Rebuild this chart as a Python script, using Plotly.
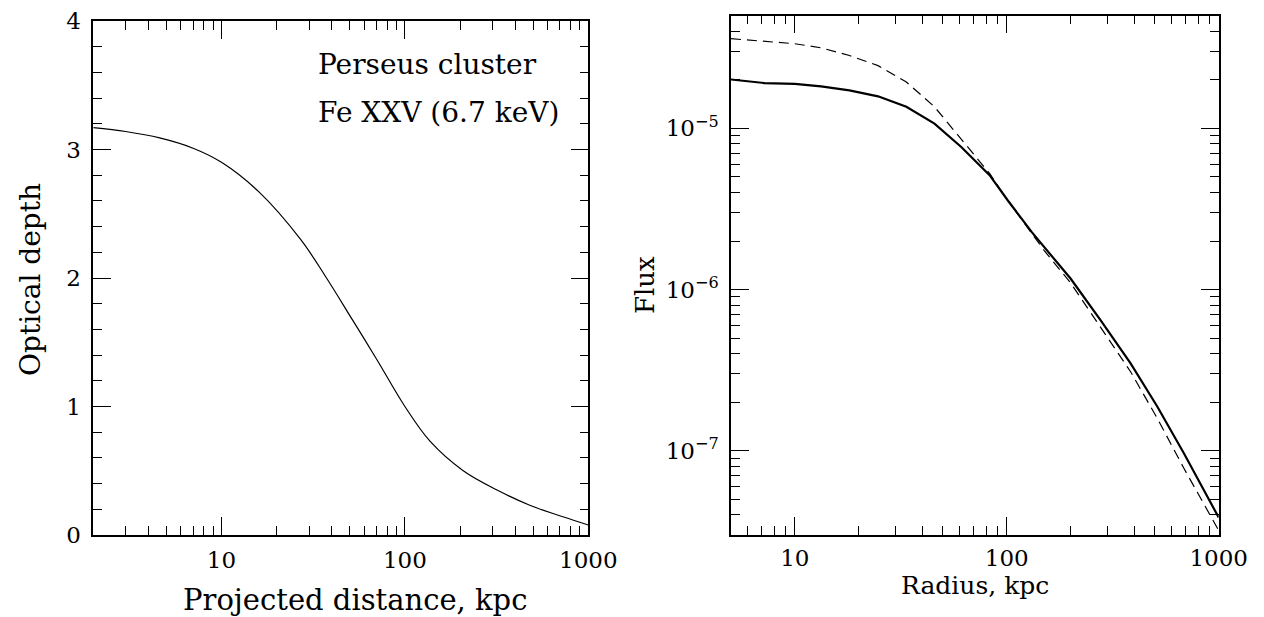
import plotly.graph_objects as go

# ---- data -----------------------------------------------------------------
# Optical depth of the Fe XXV 6.7 keV line vs projected distance (kpc)
proj_kpc = [2, 3, 4.6, 7, 10, 16, 27, 37, 52, 70, 100, 137, 208, 318, 483, 734, 1000]
optical_depth = [3.17, 3.14, 3.09, 3.01, 2.90, 2.67, 2.30, 2.01, 1.67, 1.37,
                 1.00, 0.73, 0.50, 0.35, 0.23, 0.14, 0.078]

# Surface brightness profiles vs radius (kpc)
radius_kpc = [5, 7.2, 10, 13.3, 18.1, 24.7, 33.6, 45.6, 61, 83, 101, 131,
              150, 200, 277, 384, 513, 685, 1000]
flux_scattered = [2.01e-5, 1.91e-5, 1.89e-5, 1.82e-5, 1.72e-5, 1.58e-5, 1.36e-5,
                  1.07e-5, 7.66e-6, 5.12e-6, 3.58e-6, 2.28e-6,
                  1.84e-6, 1.17e-6, 6.46e-7, 3.48e-7, 1.88e-7, 9.65e-8, 3.85e-8]
flux_thin = [3.60e-5, 3.46e-5, 3.35e-5, 3.16e-5, 2.83e-5, 2.45e-5, 1.94e-5,
             1.36e-5, 8.63e-6, 5.25e-6, 3.58e-6, 2.26e-6,
             1.75e-6, 1.10e-6, 5.87e-7, 3.09e-7, 1.59e-7, 7.78e-8, 3.2e-8]

x_major = [10, 100, 1000]
x_major_text = ["10", "100", "1000"]
tau_major = [0, 1, 2, 3, 4]
flux_major = [1e-7, 1e-6, 1e-5]
flux_major_text = ["10<sup>\u22127</sup>", "10<sup>\u22126</sup>", "10<sup>\u22125</sup>"]

# ---- figure ---------------------------------------------------------------
W, H = 1264, 617
FONT = "DejaVu Serif"

fig = go.Figure()
fig.add_trace(go.Scatter(x=proj_kpc, y=optical_depth, mode="lines",
                         line=dict(color="black", width=1.2, shape="spline",
                                   smoothing=1.0),
                         xaxis="x", yaxis="y", showlegend=False))
fig.add_trace(go.Scatter(x=radius_kpc, y=flux_thin, mode="lines",
                         line=dict(color="black", width=1.2, dash="10px,6px"),
                         xaxis="x2", yaxis="y2", showlegend=False))
fig.add_trace(go.Scatter(x=radius_kpc, y=flux_scattered, mode="lines",
                         line=dict(color="black", width=2.2),
                         xaxis="x2", yaxis="y2", showlegend=False))


def log_minor(lo_dec, hi_dec):
    return [m * 10 ** d for d in range(lo_dec, hi_dec) for m in range(2, 10)]


def px_x(p):
    return p / W


def px_y(p):
    return 1 - p / H


common = dict(showline=True, linecolor="black", linewidth=1.5, mirror="ticks",
              ticks="inside", ticklen=18, tickwidth=1.2, tickcolor="black",
              showgrid=False, zeroline=False, automargin=False,
              tickfont=dict(family=FONT, size=23, color="black"))
minor_common = dict(ticks="inside", ticklen=9, tickwidth=1.2, tickcolor="black",
                    showgrid=False)

fig.update_layout(
    width=W, height=H, autosize=False,
    margin=dict(l=0, r=0, t=0, b=0, pad=0),
    paper_bgcolor="white", plot_bgcolor="white",
    xaxis=dict(type="log", domain=[px_x(93.3), px_x(588.3)],
               range=[0.30103, 3], tickmode="array", tickvals=x_major,
               ticktext=x_major_text, anchor="y", ticklabelstandoff=4,
               minor=dict(tickmode="array", tickvals=log_minor(0, 3), **minor_common),
               **common),
    yaxis=dict(domain=[px_y(535), px_y(21)], range=[0, 4],
               tickmode="array", tickvals=tau_major, anchor="x", ticklabelstandoff=6,
               minor=dict(tickmode="array",
                          tickvals=[i / 5 for i in range(21) if i % 5],
                          **minor_common),
               **common),
    xaxis2=dict(type="log", domain=[px_x(731), px_x(1218.7)],
                range=[0.69897, 3], tickmode="array", tickvals=x_major,
                ticktext=x_major_text, anchor="y2", ticklabelstandoff=2,
                minor=dict(tickmode="array", tickvals=log_minor(0, 3), **minor_common),
                **common),
    yaxis2=dict(type="log", domain=[px_y(535), px_y(15.7)],
                range=[-7.5229, -4.30103], tickmode="array", tickvals=flux_major,
                ticktext=flux_major_text, anchor="x2", ticklabelstandoff=6,
                minor=dict(tickmode="array", tickvals=log_minor(-8, -4), **minor_common),
                **common),
)

texts = [
    ("Perseus cluster", 316, 65, "left", 0, 28),
    ("Fe XXV (6.7 keV)", 316, 112, "left", 0, 28),
    ("Projected distance, kpc", 355, 600, "center", 0, 29),
    ("Optical depth", 30, 280, "center", -90, 28),
    ("Radius, kpc", 975, 585, "center", 0, 25),
    ("Flux", 645, 285, "center", -90, 26),
]
for txt, x, y, anchor, ang, size in texts:
    fig.add_annotation(text=txt, x=px_x(x), y=px_y(y), xref="paper", yref="paper",
                       xanchor=anchor, yanchor="middle", showarrow=False,
                       textangle=ang,
                       font=dict(family=FONT, size=size, color="black"))

fig.write_html("out.html")
